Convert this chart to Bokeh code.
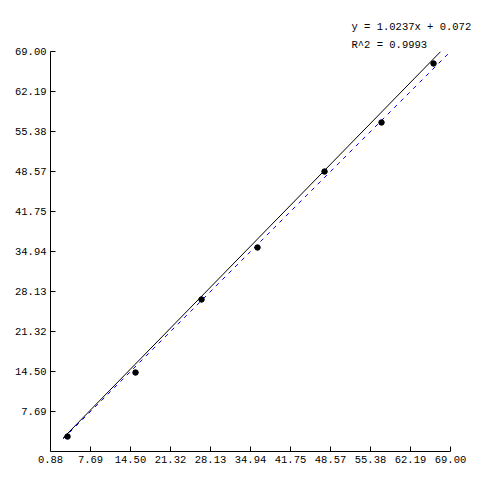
from bokeh.plotting import figure
from bokeh.models import FixedTicker, Title
from bokeh.embed import file_html
from bokeh.resources import INLINE

# data
x_vals = [3.78, 15.36, 26.60, 36.13, 47.55, 57.25, 66.11]
y_vals = [3.43, 14.33, 26.77, 35.62, 48.56, 56.91, 66.96]

tick_vals = [0.88, 7.69, 14.50, 21.32, 28.13, 34.94, 41.75, 48.57, 55.38, 62.19, 69.00]
tick_labels = ["0.88", "7.69", "14.50", "21.32", "28.13", "34.94", "41.75", "48.57", "55.38", "62.19", "69.00"]

slope = 1.0237
intercept = 0.072
fit_x = [3.04, 67.33]
ref_x = [3.04, 68.6]
eq_text = "y = 1.0237x + 0.072"
r2_text = "R^2 = 0.9993"

p = figure(width=492, height=492, output_backend="svg", toolbar_location=None,
           x_range=(tick_vals[0], tick_vals[-1]), y_range=(tick_vals[0], tick_vals[-1]),
           min_border_left=50, min_border_right=42, min_border_top=51, min_border_bottom=41)
p.outline_line_color = None
p.xgrid.grid_line_color = None
p.ygrid.grid_line_color = None
p.background_fill_color = "white"
p.border_fill_color = "white"

p.xaxis.ticker = FixedTicker(ticks=tick_vals)
p.yaxis.ticker = FixedTicker(ticks=tick_vals[1:])
p.xaxis.major_label_overrides = {v: s for v, s in zip(tick_vals, tick_labels)}
p.yaxis.major_label_overrides = {v: s for v, s in zip(tick_vals, tick_labels)}
for ax in (p.xaxis, p.yaxis):
    ax.minor_tick_line_color = None
    ax.major_tick_in = 5
    ax.major_tick_out = 0
    ax.axis_line_color = "black"
    ax.major_tick_line_color = "black"
    ax.major_label_text_font = "Liberation Mono"
    ax.major_label_text_font_size = "10.5px"
    ax.major_label_text_color = "black"
    ax.major_label_standoff = 4

p.line(ref_x, ref_x, line_color="#0000ff", line_width=1, line_dash="4 5")
p.line(fit_x, [slope * v + intercept for v in fit_x], line_color="black", line_width=1)
p.scatter(x_vals, y_vals, size=5.5, color="black")

p.add_layout(Title(text=r2_text, align="left", offset=301, standoff=1,
                   text_font="Liberation Mono", text_font_size="10.5px",
                   text_font_style="normal", text_color="black"), "above")
p.add_layout(Title(text=eq_text, align="left", offset=301, standoff=8,
                   text_font="Liberation Mono", text_font_size="10.5px",
                   text_font_style="normal", text_color="black"), "above")

open("out.html", "w").write(file_html(p, INLINE))
